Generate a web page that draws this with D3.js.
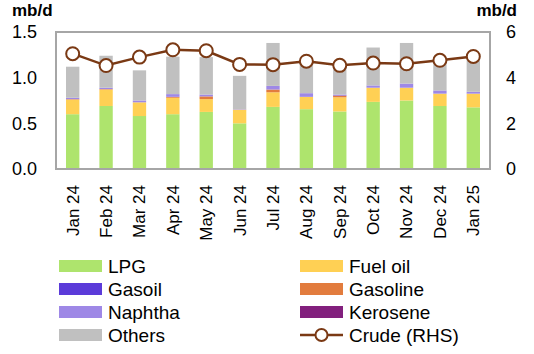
<!DOCTYPE html>
<html>
<head>
<meta charset="utf-8">
<script src="https://cdn.jsdelivr.net/npm/d3@7"></script>
<style>
  body { margin: 0; background: #fff; }
  text { font-family: "Liberation Sans", Arial, sans-serif; fill: #000; }
</style>
</head>
<body>
<div id="chart"></div>
<script>
// **** THE DATA ****
const months   = ["Jan 24","Feb 24","Mar 24","Apr 24","May 24","Jun 24","Jul 24","Aug 24","Sep 24","Oct 24","Nov 24","Dec 24","Jan 25"]
const lpg      = [0.60, 0.69, 0.58, 0.60, 0.625, 0.50, 0.68, 0.655, 0.63, 0.735, 0.75, 0.69, 0.675]
const fuelOil  = [0.16, 0.18, 0.15, 0.18, 0.14, 0.15, 0.16, 0.135, 0.155, 0.155, 0.14, 0.135, 0.15]
const gasoline = [0.005, 0.005, 0, 0.01, 0.03, 0, 0.03, 0, 0.015, 0, 0, 0, 0]
const kerosene = [0, 0, 0, 0, 0, 0, 0, 0, 0.005, 0, 0, 0, 0]
const gasoil   = [0, 0, 0, 0, 0, 0, 0, 0, 0, 0, 0, 0, 0]
const naphtha  = [0.015, 0.015, 0.02, 0.03, 0.02, 0.005, 0.04, 0.04, 0.01, 0.025, 0.045, 0.035, 0.02]
const others   = [0.34, 0.35, 0.33, 0.41, 0.41, 0.365, 0.47, 0.39, 0.34, 0.415, 0.445, 0.34, 0.36]
const crude    = [5.05, 4.53, 4.90, 5.22, 5.18, 4.58, 4.57, 4.72, 4.54, 4.64, 4.61, 4.76, 4.93]
const leftTicks  = [0, 0.5, 1.0, 1.5]
const rightTicks = [0, 2, 4, 6]

// series in stacking order (bottom -> top)
const series = [
  {key: "LPG", values: lpg, color: "#aee46d"},
  {key: "Fuel oil", values: fuelOil, color: "#ffd054"},
  {key: "Gasoline", values: gasoline, color: "#e27c3e"},
  {key: "Kerosene", values: kerosene, color: "#82207d"},
  {key: "Gasoil", values: gasoil, color: "#5b3bd9"},
  {key: "Naphtha", values: naphtha, color: "#9e88e6"},
  {key: "Others", values: others, color: "#c0c0c0"},
]

// **** THE SETUP ****
const W = 534, H = 354
const plot = {left: 56, right: 490, top: 32, bottom: 169}

const rows = months.map((m, i) => {
  const r = {month: m}
  series.forEach(s => r[s.key] = s.values[i])
  return r
})
const stacked = d3.stack().keys(series.map(s => s.key))(rows)

const x = d3.scaleBand().domain(months).range([plot.left, plot.right]).paddingInner(0.6).paddingOuter(0.3)
const yL = d3.scaleLinear().domain([0, 1.5]).range([plot.bottom, plot.top])
const yR = d3.scaleLinear().domain([0, 6]).range([plot.bottom, plot.top])

const svg = d3.select("#chart").append("svg").attr("width", W).attr("height", H)

// bars
svg.append("g").selectAll("g")
  .data(stacked)
  .join("g")
    .attr("fill", (d, i) => series[i].color)
  .selectAll("rect")
  .data(d => d)
  .join("rect")
    .attr("x", d => x(d.data.month))
    .attr("width", x.bandwidth())
    .attr("y", d => yL(d[1]))
    .attr("height", d => yL(d[0]) - yL(d[1]))

// frame
svg.append("rect")
  .attr("x", plot.left).attr("y", plot.top)
  .attr("width", plot.right - plot.left).attr("height", plot.bottom - plot.top)
  .attr("fill", "none").attr("stroke", "#a6a6a6").attr("stroke-width", 2)

// crude line
const line = d3.line()
  .x((d, i) => x(months[i]) + x.bandwidth() / 2)
  .y(d => yR(d))
svg.append("path").datum(crude)
  .attr("d", line).attr("fill", "none")
  .attr("stroke", "#7a3914").attr("stroke-width", 2.5)
svg.append("g").selectAll("circle")
  .data(crude)
  .join("circle")
    .attr("cx", (d, i) => x(months[i]) + x.bandwidth() / 2)
    .attr("cy", d => yR(d))
    .attr("r", 6.5)
    .attr("fill", "#fff").attr("stroke", "#7a3914").attr("stroke-width", 2)

// axes
const left = svg.append("g").attr("transform", `translate(${plot.left - 19},0)`)
  .call(d3.axisLeft(yL).tickValues(leftTicks).tickFormat(d3.format(".1f")).tickSize(0))
left.select(".domain").remove()
left.selectAll("text").attr("font-size", 18).attr("x", 0)

const right = svg.append("g").attr("transform", `translate(${plot.right + 16},0)`)
  .call(d3.axisRight(yR).tickValues(rightTicks).tickFormat(d3.format("d")).tickSize(0))
right.select(".domain").remove()
right.selectAll("text").attr("font-size", 18).attr("x", 0)

const bottom = svg.append("g").attr("transform", `translate(0,${plot.bottom + 16})`)
  .call(d3.axisBottom(x).tickSize(0))
bottom.select(".domain").remove()
bottom.selectAll("text")
  .attr("font-size", 17)
  .attr("transform", "rotate(-90)")
  .attr("x", 0).attr("y", 0).attr("dy", "0.35em")
  .attr("text-anchor", "end")

// unit labels
svg.append("text").attr("x", 12).attr("y", 16).attr("font-size", 17).attr("font-weight", "bold").text("mb/d")
svg.append("text").attr("x", 517).attr("y", 16).attr("font-size", 17).attr("font-weight", "bold")
  .attr("text-anchor", "end").text("mb/d")

// legend
const legendItems = [
  {key: "LPG", col: 0, row: 0}, {key: "Fuel oil", col: 1, row: 0},
  {key: "Gasoil", col: 0, row: 1}, {key: "Gasoline", col: 1, row: 1},
  {key: "Naphtha", col: 0, row: 2}, {key: "Kerosene", col: 1, row: 2},
  {key: "Others", col: 0, row: 3}, {key: "Crude (RHS)", col: 1, row: 3},
]
const lg = svg.append("g").selectAll("g")
  .data(legendItems)
  .join("g")
    .attr("transform", d => `translate(${d.col ? 300 : 59},${266 + d.row * 23})`)
lg.filter(d => d.key !== "Crude (RHS)").append("rect")
  .attr("x", 0).attr("y", -6).attr("width", 43).attr("height", 12)
  .attr("fill", d => series.find(s => s.key === d.key).color)
const crudeKey = lg.filter(d => d.key === "Crude (RHS)")
crudeKey.append("line").attr("x1", 0).attr("x2", 43).attr("y1", 0).attr("y2", 0)
  .attr("stroke", "#7a3914").attr("stroke-width", 2.5)
crudeKey.append("circle").attr("cx", 21.5).attr("cy", 0).attr("r", 6)
  .attr("fill", "#fff").attr("stroke", "#7a3914").attr("stroke-width", 2)
lg.append("text").attr("x", 49).attr("y", 0).attr("dy", "0.36em")
  .attr("font-size", 19).text(d => d.key)
</script>
</body>
</html>
